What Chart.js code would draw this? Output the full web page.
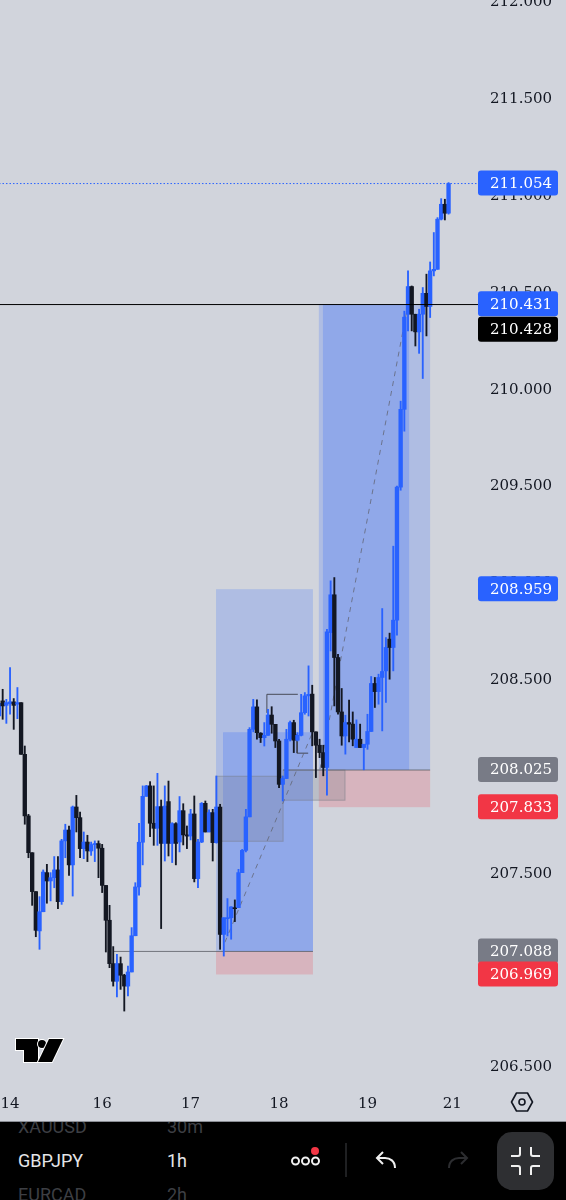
<!DOCTYPE html>
<html>
<head>
<meta charset="utf-8">
<title>GBPJPY 1h</title>
<script src="https://cdn.jsdelivr.net/npm/chart.js@4"></script>
<style>
    html, body { margin: 0; padding: 0; background: #d1d4dc; width: 566px; height: 1200px; overflow: hidden; }
    #wrap { position: absolute; left: 0; top: 0; width: 566px; height: 1122px; }
    #icons { position: absolute; left: 0; top: 0; pointer-events: none; }
    #bar { position: absolute; left: 0; top: 1121px; width: 566px; height: 79px; background: #000; border-top: 1px solid #8a8d94; box-sizing: border-box; overflow: hidden; font-family: Roboto, sans-serif; }
    #bar span { position: absolute; font-size: 18px; line-height: 22px; white-space: nowrap; }
    .dim { color: #3d3f44; }
    .now { color: #e4e5e8; }
</style>
</head>
<body>
<div id="wrap"><canvas id="chart" width="566" height="1122"></canvas></div>
<div id="bar">
    <span class="dim" style="left:18px;top:-6px">XAUUSD</span>
    <span class="dim" style="left:167px;top:-6px">30m</span>
    <span class="now" style="left:18px;top:28px">GBPJPY</span>
    <span class="now" style="left:167px;top:28px">1h</span>
    <span class="dim" style="left:18px;top:62px">EURCAD</span>
    <span class="dim" style="left:167px;top:62px">2h</span>
</div>
<svg id="icons" width="566" height="1200" xmlns="http://www.w3.org/2000/svg">
    <!-- TradingView logo -->
    <g fill="#000" stroke="#fff" stroke-width="2" paint-order="stroke">
        <path d="M16 1039H38V1062H24V1050H16Z"/>
        <circle cx="42" cy="1044" r="4"/>
        <path d="M49 1039H63L52 1062H38Z"/>
    </g>
    <!-- settings -->
    <path d="M516.5 1093h11l5 9-5 9h-11l-5-9z" fill="none" stroke="#131722" stroke-width="1.6" stroke-linejoin="round"/>
    <circle cx="522" cy="1102" r="3" fill="none" stroke="#131722" stroke-width="1.6"/>
    <!-- more -->
    <g fill="none" stroke="#f0f0f0" stroke-width="2">
        <circle cx="295.5" cy="1161" r="3.5"/><circle cx="305.5" cy="1161" r="3.5"/><circle cx="315.5" cy="1161" r="3.5"/>
    </g>
    <circle cx="315" cy="1151" r="4" fill="#f23645"/>
    <line x1="346" y1="1143" x2="346" y2="1177" stroke="#2a2b2e" stroke-width="1.5"/>
    <!-- undo, redo -->
    <path d="M395 1168c0-7-5-10-10-10h-7m5-6-6 6 6 6" fill="none" stroke="#f0f0f0" stroke-width="2"/>
    <path d="M449 1168c0-7 5-10 10-10h7m-5-6 6 6-6 6" fill="none" stroke="#2c2d30" stroke-width="2"/>
    <!-- exit fullscreen -->
    <rect x="497" y="1132" width="57" height="58" rx="15" fill="#2e2f32"/>
    <g fill="none" stroke="#f0f0f0" stroke-width="2">
        <path d="M520 1147v7q0 2-2 2h-7"/><path d="M531 1147v7q0 2 2 2h7"/>
        <path d="M520 1175v-7q0-2-2-2h-7"/><path d="M531 1175v-7q0-2 2-2h7"/>
    </g>
</svg>
<script>
// candles, first one sits just off the left edge
const highs = [208.373,208.442,208.390,208.554,208.394,208.451,208.373,208.149,207.796,207.598,207.397,207.371,207.509,207.538,207.495,207.578,207.578,207.667,207.745,207.736,207.839,207.894,207.808,207.705,207.688,207.653,207.659,207.659,207.641,207.429,207.326,207.113,207.073,207.059,206.970,207.013,207.211,207.443,207.750,207.943,207.946,207.965,207.943,208.008,207.870,207.943,207.968,207.753,207.753,207.888,207.851,207.736,207.822,207.891,207.667,207.857,207.865,207.819,207.822,207.994,207.848,207.262,207.361,207.319,207.354,207.512,207.615,207.822,208.244,208.390,208.387,208.218,208.270,208.339,208.352,208.261,208.184,207.994,208.235,208.278,208.282,208.218,208.416,208.425,208.563,208.463,208.222,208.184,208.153,208.752,209.002,209.019,208.623,208.446,208.308,208.386,208.325,208.284,208.262,208.158,208.313,208.508,208.503,208.520,208.859,208.709,208.732,209.181,209.491,209.930,210.395,210.603,210.525,210.379,210.405,210.517,210.586,210.649,210.801,210.878,210.976,210.973,211.059];
const lows = [208.153,208.287,208.266,208.313,208.235,208.290,208.106,207.745,207.572,207.326,207.164,207.099,207.293,207.337,207.349,207.417,207.309,207.331,207.572,207.481,207.374,207.705,207.572,207.567,207.552,207.584,207.552,207.469,207.392,207.085,207.004,206.909,206.853,206.892,206.780,206.858,206.982,207.169,207.378,207.535,207.889,207.681,207.636,207.636,207.206,207.555,207.581,207.547,207.535,207.602,207.638,207.619,207.664,207.447,207.417,207.650,207.705,207.705,207.555,207.647,207.099,207.064,207.168,207.151,207.242,207.314,207.495,207.602,207.783,208.222,208.184,208.167,208.149,208.204,208.215,208.141,207.934,207.865,207.981,208.175,208.115,208.175,208.201,208.313,208.304,208.150,207.986,208.089,207.995,207.895,208.640,208.356,208.313,208.153,208.107,208.170,208.150,208.141,208.141,208.026,208.132,208.224,208.348,208.365,208.227,208.374,208.494,208.537,208.721,209.470,209.775,210.293,210.293,210.215,210.177,210.047,210.267,210.362,210.577,210.611,210.866,210.866,210.896];
const opens = [208.304,208.382,208.359,208.368,208.377,208.365,208.373,208.106,207.788,207.598,207.397,207.194,207.293,207.495,207.452,207.469,207.509,207.345,207.659,207.715,207.535,207.834,207.779,207.619,207.653,207.607,207.640,207.645,207.621,207.429,207.249,207.025,206.934,207.025,206.965,206.909,206.982,207.169,207.421,207.652,207.889,207.943,207.750,207.724,207.836,207.646,207.862,207.646,207.748,207.653,207.815,207.690,207.684,207.798,207.464,207.653,207.853,207.705,207.805,207.650,207.834,207.176,207.257,207.262,207.314,207.314,207.495,207.610,207.783,208.235,208.351,208.215,208.192,208.204,208.309,208.261,208.175,207.951,207.981,208.184,208.270,208.179,208.204,208.321,208.408,208.417,208.222,208.153,208.115,208.038,208.735,208.930,208.606,208.325,208.201,208.270,208.262,208.141,208.184,208.141,208.158,208.224,208.472,208.430,208.503,208.537,208.701,208.658,208.799,209.486,209.888,210.379,210.522,210.379,210.288,210.379,210.487,210.419,210.603,210.611,210.870,210.947,210.901];
const closes = [208.370,208.356,208.373,208.377,208.359,208.373,208.106,207.788,207.598,207.397,207.197,207.293,207.498,207.452,207.469,207.509,207.345,207.659,207.715,207.535,207.834,207.779,207.619,207.653,207.607,207.640,207.645,207.621,207.429,207.249,207.025,206.934,207.025,206.965,206.909,206.982,207.169,207.421,207.652,207.889,207.943,207.750,207.724,207.836,207.646,207.839,207.646,207.748,207.646,207.815,207.690,207.684,207.798,207.464,207.653,207.853,207.705,207.805,207.650,207.834,207.176,207.262,207.262,207.318,207.309,207.495,207.610,207.783,208.235,208.351,208.218,208.192,208.204,208.309,208.261,208.175,207.951,207.981,208.184,208.270,208.179,208.204,208.321,208.408,208.416,208.222,208.153,208.115,208.038,208.739,208.930,208.606,208.325,208.201,208.270,208.262,208.184,208.184,208.141,208.158,208.224,208.472,208.430,208.503,208.534,208.658,208.658,208.799,209.486,209.888,210.364,210.522,210.379,210.288,210.379,210.487,210.419,210.603,210.611,210.870,210.947,210.901,211.054];

// axis ticks
const dayIndexes = [3, 28, 52, 76, 100, 123];
const dayLabels = ['14', '16', '17', '18', '19', '21'];
const priceTicks = [206.5, 207, 207.5, 208, 208.5, 209, 209.5, 210, 210.5, 211, 211.5, 212];

// price tags on the axis
const tagPrices = [211.054, 210.431, 210.428, 208.959, 208.025, 207.833, 207.088, 206.969];
const tagKinds = ['blue', 'blue', 'black', 'blue', 'gray', 'red', 'gray', 'red'];
const tagShifts = [0, 0, 25, 0, 0, 0, 0, 0]; // collided labels get pushed down

// drawing tool rectangles: from, to, low, high
const profitBoxes = [[58.9, 85.2, 207.088, 208.959], [86.8, 117, 208.025, 210.431]];
const overlapBoxes = [[60.8, 85.2, 207.088, 208.220], [87.9, 111.3, 208.025, 210.431]];
const stopBoxes = [[58.9, 85.2, 206.969, 207.088], [86.8, 117, 207.833, 208.025]];
const zoneBoxes = [[58.9, 77.1, 207.657, 207.993], [77.1, 93.9, 207.869, 208.025]];

// line tools
const lastPriceLine = [{x: 0, y: 211.054}, {x: 130, y: 211.054}];
const crossLine = [{x: 0, y: 210.429}, {x: 130, y: 210.429}];
const entryLines = [
    [{x: 31, y: 207.088}, {x: 85.2, y: 207.088}],
    [{x: 77.1, y: 208.025}, {x: 117, y: 208.025}]
];
const trendLines = [
    [{x: 61.3, y: 207.135}, {x: 85.2, y: 208.225}],
    [{x: 87.1, y: 208.029}, {x: 111, y: 210.431}]
];
const bracketLines = [
    [{x: 72.7, y: 208.32}, {x: 72.7, y: 208.416}, {x: 81.1, y: 208.416}],
    [{x: 80.9, y: 208.21}, {x: 80.9, y: 208.112}, {x: 83.9, y: 208.112}]
];

const BLUE = '#2962ff';
const BLACK = '#131722';
const TICK_FONT = {family: '"DejaVu Serif"', size: 15};
const TAG_COLORS = {blue: '#2962ff', black: '#000000', gray: '#787b86', red: '#f23645'};

const candleColors = opens.map((o, i) => closes[i] >= o ? BLUE : BLACK);

function lineSet(points, color, width, dash, order) {
    return {
        type: 'line',
        data: points,
        borderColor: color,
        borderWidth: width,
        borderDash: dash,
        pointRadius: 0,
        tension: 0,
        order: order
    };
}

// the axes must not push the plot in for their half-clipped labels
function noScalePadding(scale) {
    scale.paddingTop = 0;
    scale.paddingBottom = 0;
    scale.paddingLeft = 0;
    scale.paddingRight = 0;
}

const boxesPlugin = {
    id: 'boxes',
    beforeDatasetsDraw(chart) {
        const {ctx, scales: {x, y}, chartArea} = chart;
        const paint = (list, fill, stroke) => {
            list.forEach(b => {
                const left = x.getPixelForValue(b[0]);
                const right = x.getPixelForValue(b[1]);
                const top = y.getPixelForValue(b[3]);
                const bottom = y.getPixelForValue(b[2]);
                ctx.fillStyle = fill;
                ctx.fillRect(left, top, right - left, bottom - top);
                if (stroke) {
                    ctx.strokeStyle = stroke;
                    ctx.lineWidth = 1;
                    ctx.strokeRect(left, top, right - left, bottom - top);
                }
            });
        };
        ctx.save();
        ctx.beginPath();
        ctx.rect(chartArea.left, chartArea.top, chartArea.width, chartArea.height);
        ctx.clip();
        paint(profitBoxes, 'rgba(41,98,255,0.2)');
        paint(overlapBoxes, 'rgba(41,98,255,0.24)');
        paint(stopBoxes, 'rgba(242,54,69,0.2)');
        paint(zoneBoxes, 'rgba(120,123,134,0.25)', 'rgba(120,123,134,0.5)');
        ctx.restore();
    }
};

const tagsPlugin = {
    id: 'tags',
    afterDraw(chart) {
        const {ctx, scales: {y}, chartArea} = chart;
        ctx.save();
        ctx.font = '15px "DejaVu Serif"';
        ctx.textBaseline = 'middle';
        tagPrices.forEach((p, i) => {
            const mid = y.getPixelForValue(p) + tagShifts[i];
            ctx.fillStyle = TAG_COLORS[tagKinds[i]];
            ctx.beginPath();
            ctx.roundRect(chartArea.right, mid - 13, 80, 25, 3);
            ctx.fill();
            ctx.fillStyle = '#ffffff';
            ctx.fillText(p.toFixed(3), chartArea.right + 12, mid + 0.5);
        });
        ctx.restore();
    }
};

new Chart(document.getElementById('chart'), {
    type: 'bar',
    data: {
        datasets: [
            lineSet(lastPriceLine, BLUE, 1, [1.5, 2], 1),
            lineSet(crossLine, '#000000', 1, [], 1),
            {
                data: opens.map((o, i) => ({x: i, y: [o, closes[i]]})),
                backgroundColor: candleColors,
                barThickness: 3.7,
                minBarLength: 1,
                grouped: false,
                order: 2
            },
            {
                data: lows.map((l, i) => ({x: i, y: [l, highs[i]]})),
                backgroundColor: candleColors,
                barThickness: 1.2,
                grouped: false,
                order: 3
            },
            lineSet(entryLines[0], 'rgba(90,92,100,0.8)', 1, [], 4),
            lineSet(entryLines[1], 'rgba(90,92,100,0.8)', 1, [], 4),
            lineSet(trendLines[0], 'rgba(95,98,110,0.75)', 1, [5, 5], 4),
            lineSet(trendLines[1], 'rgba(95,98,110,0.75)', 1, [5, 5], 4),
            lineSet(bracketLines[0], 'rgba(60,62,72,0.9)', 1, [], 4),
            lineSet(bracketLines[1], 'rgba(60,62,72,0.9)', 1, [], 4)
        ]
    },
    options: {
        responsive: false,
        animation: false,
        events: [],
        layout: {padding: 0},
        plugins: {legend: {display: false}, tooltip: {enabled: false}, title: {display: false}},
        scales: {
            x: {
                type: 'linear',
                bounds: 'data',
                offset: false,
                min: 0.275,
                max: 129.99,
                grid: {display: false, drawTicks: false},
                border: {display: false},
                afterBuildTicks(scale) {
                    scale.ticks = dayIndexes.map(v => ({value: v}));
                },
                afterFit(scale) {
                    scale.height = 36;
                    noScalePadding(scale);
                },
                ticks: {
                    autoSkip: false,
                    maxRotation: 0,
                    padding: 9,
                    color: BLACK,
                    font: TICK_FONT,
                    callback: v => dayLabels[dayIndexes.indexOf(v)]
                }
            },
            y: {
                type: 'linear',
                position: 'right',
                bounds: 'data',
                min: 206.393,
                max: 212.002,
                grid: {display: false, drawTicks: false},
                border: {display: false},
                afterBuildTicks(scale) {
                    scale.ticks = priceTicks.map(v => ({value: v}));
                },
                afterFit(scale) {
                    scale.width = 88;
                    noScalePadding(scale);
                },
                ticks: {
                    autoSkip: false,
                    padding: 12,
                    labelOffset: 2,
                    color: BLACK,
                    font: TICK_FONT,
                    callback: v => v.toFixed(3)
                }
            }
        }
    },
    plugins: [boxesPlugin, tagsPlugin]
});
</script>
</body>
</html>
